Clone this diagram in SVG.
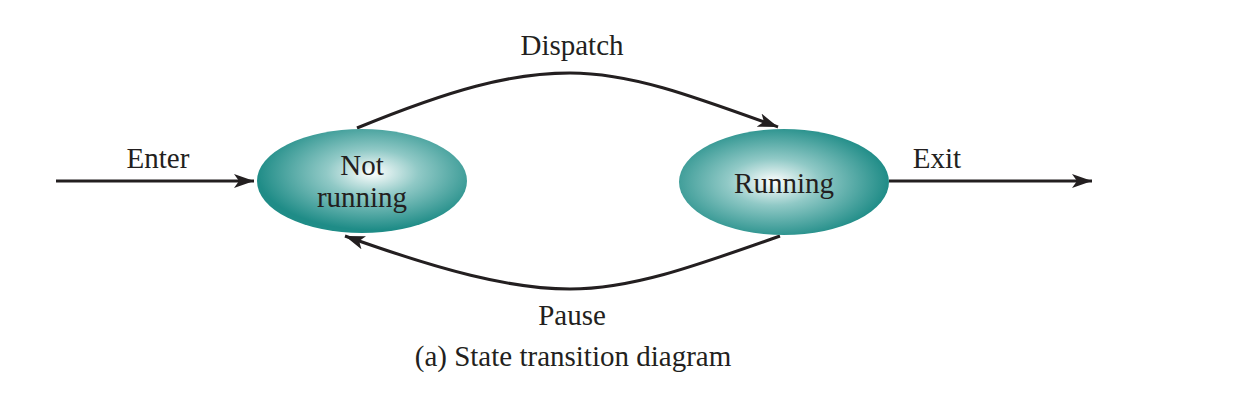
<svg xmlns="http://www.w3.org/2000/svg" width="1246" height="406" viewBox="0 0 1246 406">
<style>
text{font-family:"Liberation Serif","Times New Roman",serif;font-size:29px;fill:#231f20;text-anchor:middle}
.edge{fill:none;stroke:#231f20;stroke-width:3}
</style>
<defs>
<radialGradient id="g1" cx="0.55" cy="0.42" r="0.55">
<stop offset="0" stop-color="#ffffff"/>
<stop offset="0.4" stop-color="#90c9c6"/>
<stop offset="1" stop-color="#1f8c87"/>
</radialGradient>
<radialGradient id="g2" cx="0.45" cy="0.5" r="0.55">
<stop offset="0" stop-color="#ffffff"/>
<stop offset="0.4" stop-color="#90c9c6"/>
<stop offset="1" stop-color="#1f8c87"/>
</radialGradient>
<marker id="arr" viewBox="0 0 20 14" refX="20" refY="7" markerWidth="20" markerHeight="14" markerUnits="userSpaceOnUse" orient="auto">
<path d="M0,0 L20,7 L0,14 L5,7 Z" fill="#231f20"/>
</marker>
</defs>
<rect width="1246" height="406" fill="#ffffff"/>
<g id="connectors">
<path class="edge" d="M56,181 L254,181" marker-end="url(#arr)"/>
<path class="edge" d="M889,181 L1092,181" marker-end="url(#arr)"/>
<path class="edge" d="M357,128 C450,90 510,73 570,73 C630,73 690,95 778,127" marker-end="url(#arr)"/>
<path class="edge" d="M780,236 C690,268 630,289 570,289 C510,289 440,270 345,236" marker-end="url(#arr)"/>
</g>
<g id="node-not-running">
<ellipse cx="362" cy="181" rx="105" ry="52" fill="url(#g1)"/>
<text x="362" y="175">Not</text>
<text x="362" y="207">running</text>
</g>
<g id="node-running">
<ellipse cx="784" cy="182" rx="105" ry="53" fill="url(#g2)"/>
<text x="784" y="193">Running</text>
</g>
<g id="labels">
<text x="572" y="55">Dispatch</text>
<text x="158" y="168">Enter</text>
<text x="937" y="168">Exit</text>
<text x="572" y="325">Pause</text>
<text x="573" y="366">(a) State transition diagram</text>
</g>
</svg>
